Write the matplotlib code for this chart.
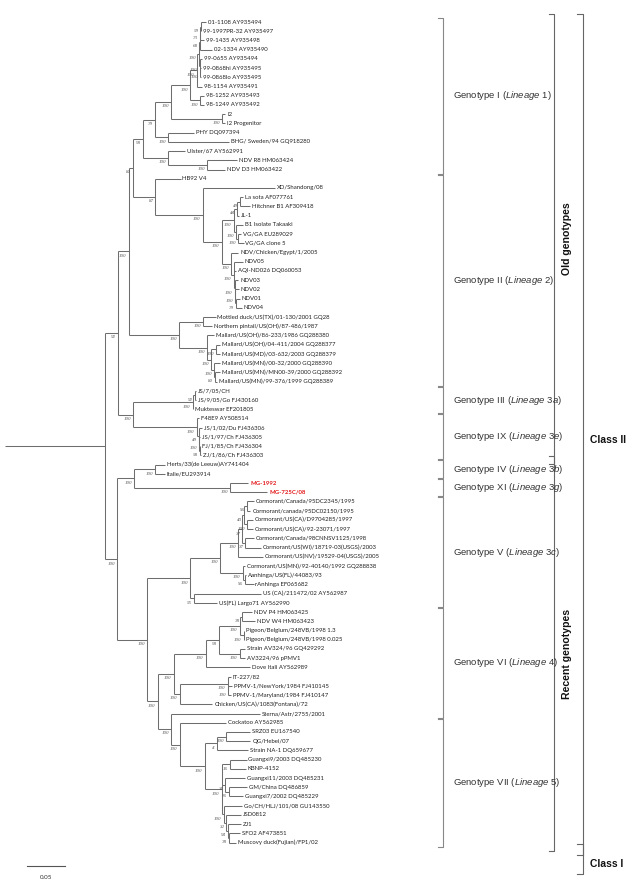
import matplotlib
matplotlib.use("Agg")
import matplotlib.pyplot as plt

plt.rcParams["mathtext.fontset"] = "custom"
plt.rcParams["mathtext.rm"] = "Liberation Sans"
plt.rcParams["mathtext.it"] = "Liberation Sans:italic"

# tip labels, top to bottom (tip numbers in the newick strings index this list)
leaf_names = [
    "01-1108 AY935494", "99-1997PR-32 AY935497", "99-1435 AY935498", "02-1334 AY935490",
    "99-0655 AY935494", "99-0868hi AY935495", "99-0868lo AY935495", "98-1154 AY935491",
    "98-1252 AY935493", "98-1249 AY935492", "I2", "I2 Progenitor", "PHY DQ097394",
    "BHG/ Sweden/94 GQ918280", "Ulster/67 AY562991", "NDV R8 HM063424", "NDV D3 HM063422",
    "HB92 V4", "XD/Shandong/08", "La sota AF077761", "Hitchner B1 AF309418", "JL-1",
    "B1 Isolate Takaaki", "VG/GA EU289029", "VG/GA clone 5", "NDV/Chicken/Egypt/1/2005",
    "NDV05", "AQI-ND026 DQ060053", "NDV03", "NDV02", "NDV01", "NDV04",
    "Mottled duck/US(TX)/01-130/2001 GQ28", "Northern pintail/US(OH)/87-486/1987",
    "Mallard/US(OH)/86-233/1986 GQ288380", "Mallard/US(OH)/04-411/2004 GQ288377",
    "Mallard/US(MD)/03-632/2003 GQ288379", "Mallard/US(MN)/00-32/2000 GQ288390",
    "Mallard/US(MN)/MN00-39/2000 GQ288392", "Mallard/US(MN)/99-376/1999 GQ288389",
    "JS/7/05/CH", "JS/9/05/Go FJ430160", "Mukteswar EF201805", "F48E9 AY508514",
    "JS/1/02/Du FJ436306", "JS/1/97/Ch FJ436305", "FJ/1/85/Ch FJ436304", "ZJ/1/86/Ch FJ436303",
    "Herts/33(de Leeuw)AY741404", "Italie/EU293914", "MG-1992", "MG-725C/08",
    "Cormorant/Canada/95DC2345/1995", "Cormorant/canada/95DC02150/1995",
    "Cormorant/US(CA)/D9704285/1997", "Cormorant/US(CA)/92-23071/1997",
    "Cormorant/Canada/98CNNSV1125/1998", "Cormorant/US(WI)/18719-03(USGS)/2003",
    "Cormorant/US(NV)/19529-04(USGS)/2005", "Cormorant/US(MN)/92-40140/1992 GQ288838",
    "Aanhinga/US(FL)/44083/93", "rAnhinga EF065682", "US (CA)/211472/02 AY562987",
    "US(FL) Largo71 AY562990", "NDV P4 HM063425", "NDV W4 HM063423",
    "Pigeon/Belgium/248VB/1998 1.3", "Pigeon/Belgium/248VB/1998 0.025",
    "Strain AV324/96 GQ429292", "AV3224/96 pPMV1", "Dove Itali AY562989", "IT-227/82",
    "PPMV-1/NewYork/1984 FJ410145", "PPMV-1/Maryland/1984 FJ410147",
    "Chicken/US(CA)/1083(Fontana)/72", "Sterna/Astr/2755/2001", "Cockatoo AY562985",
    "SRZ03 EU167540", "QG/Hebei/07", "Strain NA-1 DQ659677", "Guangxi9/2003 DQ485230",
    "KBNP-4152", "Guangxi11/2003 DQ485231", "GM/China DQ486859", "Guangxi7/2002 DQ485229",
    "Go/CH/HLJ/101/08 GU143550", "JSD0812", "ZJ1", "SFO2 AF473851",
    "Muscovy duck(Fujian)/FP1/02", "Goose/Alaska/415/91 AB524405", "DE R49/99 DQ097393 Class",
]
highlight = ["MG-1992", "MG-725C/08"]

# clades as newick: tip:length, (..)bootstrap:length, lengths in subst./site
geno_I = ("(((((((((0:0.007,1:0.001)59:0.001,2:0.005)73:0.0005,3:0.016)68:0.001,"
          "(4:0.003,(5:0.001,6:0.001)100:0.001)100:0.001)100:0.003,7:0.007)100:0.008,"
          "(8:0.005,9:0.005)100:0.013)100:0.025,(10:0.004,11:0.004)100:0.067)100:0.022,"
          "(12:0.034,13:0.080)100:0.018)79:0.016,"
          "(14:0.022,(15:0.039,16:0.024)100:0.051)100:0.034)98:0.013")
geno_II = ("(17:0.033,(18:0.095,((((19:0.004,20:0.014)49:0.004,21:0.003)44:0.004,"
           "(22:0.009,(23:0.004,24:0.007)100:0.003)100:0.003)100:0.016,"
           "(25:0.009,(26:0.012,27:0.003,(28:0.005,(29:0.005,(30:0.005,31:0.008)79:0.001)"
           "100:0.001)100:0.001)100:0.003)100:0.013)100:0.025)100:0.062)87:0.030")
mallard = ("((32:0.016,33:0.011)100:0.032,(34:0.009,((35:0.005,36:0.005)100:0.007,"
           "(37:0.008,(38:0.007,39:0.003)80:0.001)100:0.004)100:0.005)100:0.037)100:0.066")
geno_III_IX = ("(((40:0.001,41:0.001)92:0.003,42:0.001)100:0.078,"
               "(43:0.003,(44:0.004,(45:0.001,(46:0.001,47:0.002)58:0.0005)100:0.0005)49:0.003)"
               "100:0.083)100:0.020")
geno_IV_XI = "((48:0.013,49:0.012)100:0.028,(50:0.024,51:0.049)100:0.126)100:0.022"
geno_V = ("((((((52:0.008,53:0.004)96:0.004,(54:0.007,55:0.007)100:0.004)43:0.003,"
          "(56:0.012,57:0.021)37:0.004)37:0.005,58:0.032)100:0.024,"
          "(59:0.003,(60:0.001,61:0.011)96:0.003)100:0.030)100:0.039,"
          "(62:0.088,63:0.030)55:0.005)100:0.057")
geno_VI = ("(((((64:0.013,65:0.017)78:0.003,(66:0.001,67:0.001)100:0.005)100:0.028,"
           "(68:0.007,69:0.007)100:0.028)98:0.017,70:0.058)100:0.042,"
           "((71:0.004,(72:0.005,73:0.003)100:0.001)100:0.063,74:0.043)100:0.008)100:0.021")
geno_VII = ("(75:0.117,(76:0.061,(((77:0.032,78:0.032)100:0.012,79:0.041)4:0.016,"
            "((80:0.022,81:0.021)16:0.011,(82:0.026,(83:0.024,84:0.018)76:0.005)36:0.005,"
            "(85:0.024,(86:0.020,(87:0.017,(88:0.014,89:0.009)78:0.001)94:0.003)32:0.003)"
            "100:0.003)100:0.022)100:0.033)100:0.011)100:0.018")
class_I = "(90:0.017,91:0.014):0.316"

tree_str = (f"(((({geno_I},{geno_II})80:0.005,{mallard})100:0.014,{geno_III_IX})92:0.017,"
            f"({geno_IV_XI},({geno_V},({geno_VI},{geno_VII})100:0.014)100:0.039)100:0.016)"
            f":0.132,{class_I});")

# (genotype, lineage, first tip, last tip)
genotypes = [
    ("I", "1", 0, 16), ("II", "2", 17, 39), ("III", "3a", 40, 42), ("IX", "3e", 43, 47),
    ("IV", "3b", 48, 49), ("XI", "3g", 50, 51), ("V", "3c", 52, 63), ("VI", "4", 64, 75),
    ("VII", "5", 76, 89),
]
age_groups = [("Old genotypes", 0, 47), ("Recent genotypes", 48, 89)]
classes = [("Class II", 0, 89), ("Class I", 90, 91)]
scale_len = 0.05


def parse_newick(s):
    pos = 0

    def node():
        nonlocal pos
        children = []
        if s[pos] == "(":
            pos += 1
            children.append(node())
            while s[pos] == ",":
                pos += 1
                children.append(node())
            pos += 1
        start = pos
        while s[pos] not in ":,);":
            pos += 1
        label = s[start:pos]
        length = 0.0
        if s[pos] == ":":
            pos += 1
            start = pos
            while s[pos] not in ",);":
                pos += 1
            length = float(s[start:pos])
        return {"children": children, "label": label, "length": length}

    return node()


def layout(n, parent_x, hsegs, vsegs, nodes):
    n["x"] = parent_x + n["length"]
    if not n["children"]:
        n["y"] = int(n["label"])
    else:
        for c in n["children"]:
            layout(c, n["x"], hsegs, vsegs, nodes)
        ys = [c["y"] for c in n["children"]]
        n["y"] = (ys[0] + ys[-1]) / 2
        vsegs.append((n["x"], ys[0], ys[-1]))
    hsegs.append((n["y"], parent_x, n["x"]))
    nodes.append(n)


root = parse_newick(tree_str)
hsegs, vsegs, nodes = [], [], []
layout(root, 0.0, hsegs, vsegs, nodes)

fig = plt.figure(figsize=(6.35, 8.93), dpi=100)
ax = fig.add_axes([0, 0, 1, 1])
ax.axis("off")
ax.set_xlim(-5 / 760, 630 / 760)
ax.set_ylim((893 - 22) / 9.22, -22 / 9.22)

line_col = "#6e6e6e"
for y, x0, x1 in hsegs:
    if x1 > x0:
        ax.plot([x0, x1], [y, y], color=line_col, lw=0.75, solid_capstyle="butt")
for x, y0, y1 in vsegs:
    ax.plot([x, x], [y0, y1], color=line_col, lw=0.75, solid_capstyle="butt")

for n in nodes:
    if n["children"]:
        if n["label"]:
            ax.annotate(n["label"], (n["x"], n["y"]), xytext=(-1.5, -3.2),
                        textcoords="offset points", ha="right", va="center",
                        fontsize=3.6, style="italic", family="Liberation Serif",
                        color="#555555")
    else:
        name = leaf_names[int(n["label"])]
        red = name in highlight
        ax.annotate(name, (n["x"], n["y"]), xytext=(1.3, 0), textcoords="offset points",
                    ha="left", va="center", fontsize=4.3, family="Lato",
                    color="#e3191c" if red else "#222222",
                    fontweight="bold" if red else "normal")

# right-hand brackets, x in axes fraction, y in tip units
yt = ax.get_yaxis_transform()


def bracket(xpos, y0, y1, tick=0.009, color="#888888", lw=0.8):
    ax.plot([xpos - tick, xpos, xpos, xpos - tick], [y0, y0, y1, y1],
            color=color, lw=lw, transform=yt)


for g, lin, a, b in genotypes:
    bracket(0.698, a - 0.45, b + 0.45)
    ax.text(0.713, (a + b) / 2, f"Genotype {g} ($\\mathit{{Lineage\\ {lin}}}$)",
            transform=yt, ha="left", va="center", fontsize=6.8,
            family="Liberation Sans", color="#333333")

for name, a, b in age_groups:
    bracket(0.873, a - 0.9, b + 0.9, color="#666666")
    ax.text(0.893, (a + b) / 2, name, transform=yt, rotation=90, ha="center",
            va="center", fontsize=7.6, fontweight="bold",
            family=["Liberation Sans Narrow", "Liberation Sans"], color="#111111")

for name, a, b in classes:
    bracket(0.918, a - 0.9, b + 1.4, color="#666666")
    ax.text(0.929, (a + b) / 2 + 0.8, name, transform=yt, ha="left", va="center",
            fontsize=7.4, fontweight="bold", family="Liberation Sans", color="#111111")

# scale bar
sb_x0, sb_y = 0.029, 91.55
ax.plot([sb_x0, sb_x0 + scale_len], [sb_y, sb_y], color="#555555", lw=0.8)
ax.annotate(f"{scale_len:.2f}", (sb_x0 + scale_len / 2, sb_y), xytext=(0, -8),
            textcoords="offset points", ha="center", va="center", fontsize=4.5,
            family="Lato", color="#333333")

fig.savefig("out.png", dpi=100)
